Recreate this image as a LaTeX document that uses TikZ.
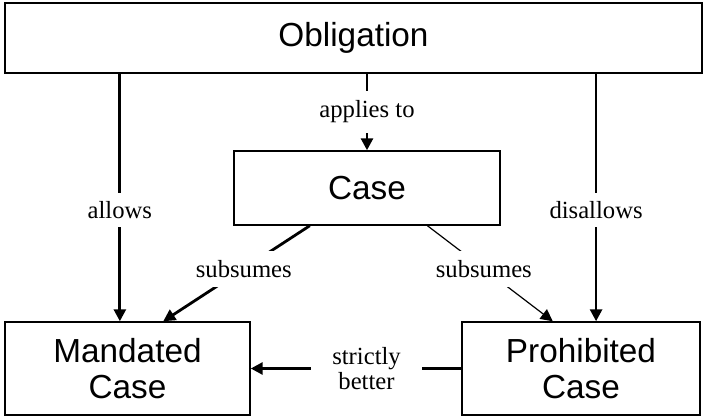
\documentclass[tikz,border=0pt]{standalone}
\usepackage{fontspec}
\setmainfont{Liberation Serif}
\newfontfamily\boxfont{Liberation Sans}
\usetikzlibrary{arrows.meta,calc}
\tikzset{
  box/.style={draw,line width=1.1pt,inner sep=0pt,align=center,
    font=\boxfont\fontsize{25}{26.5}\selectfont},
  lab/.style={fill=white,inner sep=4pt,align=center,
    font=\fontsize{18.5}{19}\selectfont},
  arrow/.style={line width=2.1pt,-{Triangle[length=9pt,width=9pt]}},
  thinarrow/.style={line width=0.9pt,-{Triangle[length=9pt,width=9pt]}}
}
\begin{document}
\begin{tikzpicture}[x=0.75pt,y=-0.75pt]
  \useasboundingbox
    (0,0) rectangle (703,420);
  \node[box,minimum width=522.75pt,minimum height=52.5pt] (obligation)
    at (353.5,38) {Obligation};
  \node[box,minimum width=199.5pt,minimum height=55.5pt] (case)
    at (367,188) {Case};
  \node[box,minimum width=183.75pt,minimum height=69.75pt] (mandated)
    at (127.5,368.5) {Mandated\\Case};
  \node[box,minimum width=178.5pt,minimum height=69.75pt] (prohibited)
    at (581,368.5) {Prohibited\\Case};
  % points where the connectors meet the boxes
  \coordinate (mandtop) at ($(mandated.north west)!0.469!(mandated.north east)$);
  \coordinate (prohtop) at ($(prohibited.north west)!0.563!(prohibited.north east)$);
  \coordinate (subsleft) at ($(case.south west)!0.286!(case.south east)$);
  \coordinate (subsright) at ($(case.south west)!0.726!(case.south east)$);
  \coordinate (mandsub) at ($(mandated.north west)!0.645!(mandated.north east)$);
  \coordinate (prohsub) at ($(prohibited.north west)!0.382!(prohibited.north east)$);
  \draw[arrow]
    (obligation.south -| mandtop)
    --
    node[lab,pos=0.55,inner ysep=6pt] {allows}
    (mandtop);
  \draw[arrow]
    (obligation.south -| prohtop)
    --
    node[lab,pos=0.55,inner ysep=6pt] {disallows}
    (prohtop);
  \draw[arrow]
    (obligation.south -| case.north)
    --
    node[lab,inner ysep=7pt] {applies to}
    (case.north);
  \draw[arrow]
    (subsleft)
    --
    node[lab,pos=0.45,inner ysep=7pt] {subsumes}
    (mandsub);
  \draw[thinarrow]
    (subsright)
    --
    node[lab,pos=0.45,inner ysep=7pt] {subsumes}
    (prohsub);
  \draw[arrow]
    (prohibited.west)
    --
    node[lab,pos=0.45,inner xsep=16pt] {strictly\\better}
    (mandated.east);
\end{tikzpicture}
\end{document}
